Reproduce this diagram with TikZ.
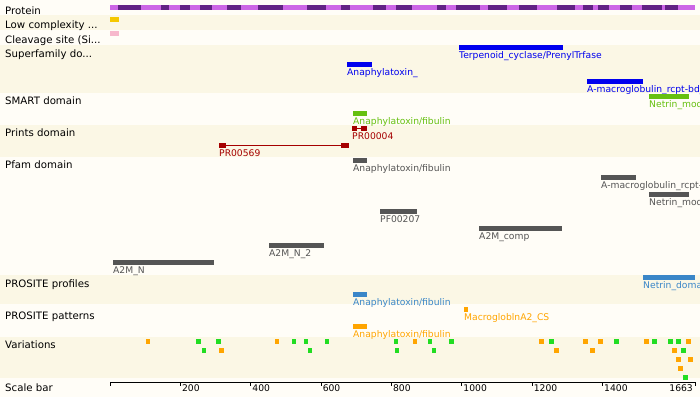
\documentclass[tikz,border=0pt]{standalone}
\usepackage{fontspec}
\setmainfont{DejaVu Sans}
\definecolor{bgw}{HTML}{FFFDF7}
\definecolor{bgt}{HTML}{FBF7E5}
\definecolor{plight}{HTML}{CC66E6}
\definecolor{pdark}{HTML}{622284}
\definecolor{lowc}{HTML}{F5C800}
\definecolor{cleav}{HTML}{F7B8CC}
\definecolor{sfblue}{HTML}{0000EE}
\definecolor{smgreen}{HTML}{66C010}
\definecolor{prred}{HTML}{A50000}
\definecolor{pfgray}{HTML}{555555}
\definecolor{psblue}{HTML}{3A86C8}
\definecolor{psorange}{HTML}{FFA500}
\definecolor{vgreen}{HTML}{22DD22}
\tikzset{
  rowlab/.style={anchor=base west, font=\fontsize{10.2}{12}\selectfont, inner sep=0pt, text=black},
  flab/.style={anchor=base west, font=\fontsize{9.2}{11}\selectfont, inner sep=0pt},
  ticklab/.style={anchor=base west, font=\fontsize{9.2}{11}\selectfont, inner sep=0pt, text=black},
  varsq/.style={minimum size=4.5pt, inner sep=0pt, anchor=north west},
}
\newcommand\featbar[6]{%
  \fill[#5] (#2,#4) rectangle (#3,#4+4.5);
  \node[flab, text=#5] (#1) at (#2,#4+13) {#6};
}
\begin{document}
\begin{tikzpicture}[x=1pt,y=-1pt]
\useasboundingbox (0,0) rectangle (700,397);
\clip (0,0) rectangle (700,397);
% backgrounds
\fill[bgw] (0,0) rectangle (700,397);
\fill[bgt] (0,15) rectangle (700,30);
\fill[bgt] (0,45) rectangle (700,93);
\fill[bgt] (0,125) rectangle (700,157);
\fill[bgt] (0,275) rectangle (700,304);
\fill[bgt] (0,337) rectangle (700,378);
% row labels
\node[rowlab] (lprot) at (5,14.5) {Protein};
\node[rowlab] (llow) at (5,28.7) {Low complexity ...};
\node[rowlab] (lcleav) at (5,43) {Cleavage site (Si...};
\node[rowlab] (lsf) at (5,57) {Superfamily do...};
\node[rowlab] (lsmart) at (5,104) {SMART domain};
\node[rowlab] (lprints) at (5,136.7) {Prints domain};
\node[rowlab] (lpfam) at (5,168.3) {Pfam domain};
\node[rowlab] (lpsprof) at (5,287.3) {PROSITE profiles};
\node[rowlab] (lpspat) at (5,319.3) {PROSITE patterns};
\node[rowlab] (lvar) at (5,348.3) {Variations};
\node[rowlab] (lscale) at (5,391) {Scale bar};
% protein bar
\fill[plight] (110,5) rectangle (695,10);
\foreach \a/\b in {117.7/141,161/169,180.3/190,200/211.7,226.7/241,258/283,306.7/326,341/350,373/386,396/411.7,436.7/446,455.5/480,488/506.7,519/537,556.7/575,582.7/592.7,598.3/609.3,620/632,642/662,665/678}
  \fill[pdark] (\a,5) rectangle (\b,10);
% low complexity, cleavage
\fill[lowc] (110,17) rectangle (119,21.5);
\fill[cleav] (110,31) rectangle (118.5,35.5);
% superfamily
\featbar{sf1}{459}{563}{45}{sfblue}{Terpenoid\_cyclase/PrenylTrfase}
\featbar{sf2}{347}{372}{62}{sfblue}{Anaphylatoxin\_}
\featbar{sf3}{587}{643}{79}{sfblue}{A-macroglobulin\_rcpt-bd\_sf}
% SMART
\featbar{sm1}{649}{689}{94}{smgreen}{Netrin\_module\_non-TIMP}
\featbar{sm2}{353}{367}{111}{smgreen}{Anaphylatoxin/fibulin}
% Prints
\fill[prred] (352,126) rectangle (357,130.5);
\fill[prred] (361,126) rectangle (367,130.5);
\draw[prred, line width=1pt] (357,128.25) -- (361,128.25);
\node[flab, text=prred] (pr1) at (352,139) {PR00004};
\fill[prred] (219,143) rectangle (226,147.5);
\fill[prred] (341,143) rectangle (349,147.5);
\draw[prred, line width=0.9pt] (226,145.25) -- (341,145.25);
\node[flab, text=prred] (pr2) at (219,156) {PR00569};
% Pfam
\featbar{pf1}{353}{367}{158}{pfgray}{Anaphylatoxin/fibulin}
\featbar{pf2}{601}{636}{175}{pfgray}{A-macroglobulin\_rcpt-bd}
\featbar{pf3}{649}{689}{192}{pfgray}{Netrin\_module\_non-TIMP}
\featbar{pf4}{380}{417}{209}{pfgray}{PF00207}
\featbar{pf5}{479}{562}{226}{pfgray}{A2M\_comp}
\featbar{pf6}{269}{324}{243}{pfgray}{A2M\_N\_2}
\featbar{pf7}{113}{214}{260}{pfgray}{A2M\_N}
% PROSITE profiles
\featbar{ps1}{643}{695}{275}{psblue}{Netrin\_domain}
\featbar{ps2}{353}{367}{292}{psblue}{Anaphylatoxin/fibulin}
% PROSITE patterns
\featbar{pt1}{464}{468}{307.3}{psorange}{MacrogloblnA2\_CS}
\featbar{pt2}{353}{367}{324}{psorange}{Anaphylatoxin/fibulin}
% variations
\foreach \n/\x/\r/\c in {
  1/145.7/0/psorange, 2/196/0/vgreen, 3/216/0/vgreen, 4/201.3/1/vgreen, 5/219/1/psorange,
  6/274.3/0/psorange, 7/291.3/0/vgreen, 8/303.3/0/vgreen, 9/324.3/0/vgreen, 10/307.3/1/vgreen,
  11/393.3/0/vgreen, 12/412.3/0/psorange, 13/427.3/0/vgreen, 14/449/0/vgreen, 15/394.3/1/vgreen, 16/431.3/1/vgreen,
  17/539/0/psorange, 18/549/0/vgreen, 19/583/0/psorange, 20/598/0/psorange, 21/614/0/vgreen,
  22/644/0/psorange, 23/652/0/vgreen, 24/668/0/vgreen, 25/676/0/vgreen, 26/686/0/psorange,
  27/554/1/psorange, 28/590/1/psorange, 29/672/1/psorange, 30/681/1/vgreen,
  31/676/2/psorange, 32/688/2/psorange, 33/678/3/psorange, 34/683/4/vgreen}
  \node[varsq, fill=\c] (v\n) at (\x,339+9*\r) {};
% scale bar
\coordinate (s0) at (110,382);
\coordinate (s1) at (695,382);
\draw[black, line width=0.9pt] (s0) -- (s1);
\draw[black, line width=0.9pt] (s0) -- ++(0,4);
\draw[black, line width=0.9pt] (s1) -- ++(0,4);
\foreach \v in {200,400,...,1400} {
  \coordinate (t\v) at ({110+\v*0.351774},382);
  \draw[black, line width=0.9pt] (t\v) -- ++(0,4);
  \node[ticklab] (n\v) at ({111.5+\v*0.351774},391) {\v};
}
\node[ticklab, anchor=base east] (nend) at (693,391) {1663};
\end{tikzpicture}
\end{document}
